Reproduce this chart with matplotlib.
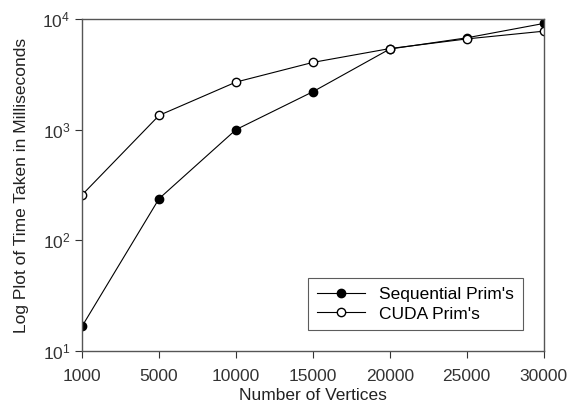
import numpy as np
import matplotlib.pyplot as plt

plt.rcParams['font.family'] = ['Liberation Sans', 'DejaVu Sans']

vertices = ["1000", "5000", "10000", "15000", "20000", "25000", "30000"]
sequential = [16.8, 238, 1000, 2200, 5350, 6750, 9100]
cuda = [258, 1345, 2690, 4050, 5400, 6600, 7750]

fig = plt.figure(figsize=(5.87, 4.12), dpi=100)
ax = fig.add_axes([0.14, 0.148, 0.786, 0.806])

x = np.arange(len(vertices))
ax.plot(x, sequential, '-o', color='black', lw=0.8, ms=6,
        mfc='black', mec='black', label="Sequential Prim's")
ax.plot(x, cuda, '-o', color='black', lw=0.8, ms=6,
        mfc='white', mec='black', label="CUDA Prim's")

ax.set_yscale('log')
ax.set_ylim(10, 1e4)
ax.set_xlim(x[0], x[-1])
ax.set_xticks(x)
ax.set_xticklabels(vertices)
ax.minorticks_off()
ax.tick_params(direction='out', length=5, width=0.8, labelsize=12.5, colors='#333333')
ax.tick_params(axis='x', pad=8)
for s in ax.spines.values():
    s.set_color('#555555')
    s.set_linewidth(1.0)

ax.set_xlabel("Number of Vertices", fontsize=12.5, labelpad=3, color='#222222')
ax.set_ylabel("Log Plot of Time Taken in Milliseconds", fontsize=12.5, labelpad=10, color='#222222')

leg = ax.legend(loc='lower right', fontsize=12.5, frameon=True, fancybox=False,
                edgecolor='#333333', borderaxespad=1.2, handlelength=2.8,
                borderpad=0.5, labelspacing=0.25, handletextpad=0.8)
leg.get_frame().set_linewidth(0.8)

fig.savefig("out.png", dpi=100)
